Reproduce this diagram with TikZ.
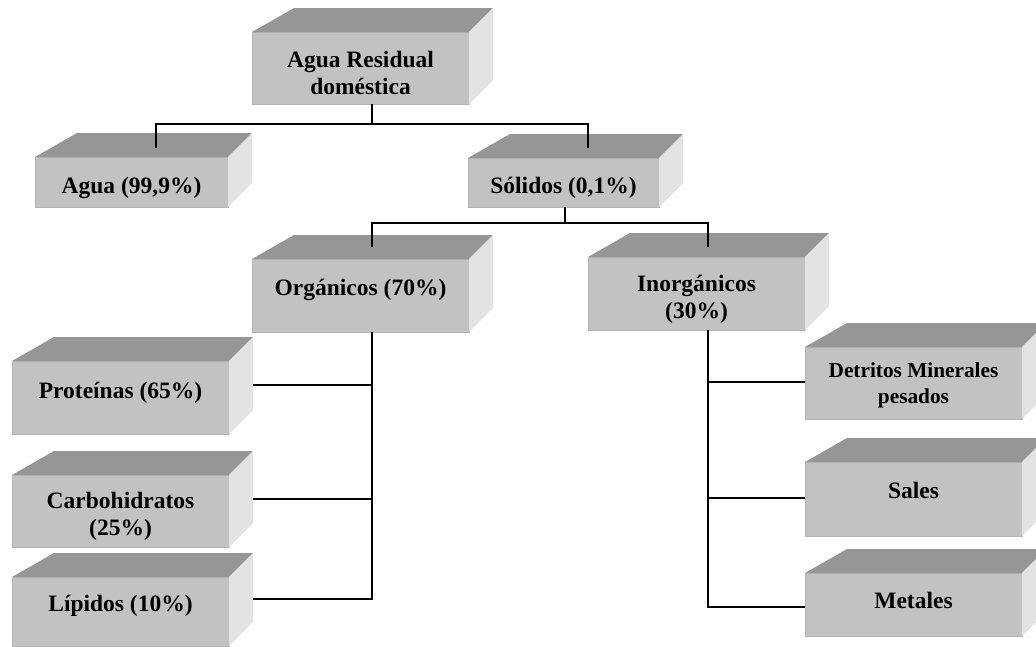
\documentclass[tikz,border=0pt]{standalone}
\usepackage{fontspec}
\setmainfont{Liberation Serif}
\usetikzlibrary{calc}
\definecolor{frontc}{HTML}{C2C2C2}
\definecolor{topc}{HTML}{969696}
\definecolor{sidec}{HTML}{E3E3E3}
\definecolor{edgec}{HTML}{B4B4B4}
\tikzset{
  frontface/.style={fill=frontc, draw=edgec, line width=1pt, inner sep=0pt, outer sep=0pt},
  topface/.style={fill=topc},
  sideface/.style={fill=sidec},
  lbl/.style={anchor=north, inner sep=0pt, align=center, text=black,
    font=\bfseries\fontsize{23.5}{27}\selectfont},
  lblsmall/.style={lbl, font=\bfseries\fontsize{21.3}{26}\selectfont},
  conn/.style={draw=black, line width=1.4pt}
}
\newcommand{\mkcube}[5]{%
  \node[frontface, minimum width={(#4-#2)*1pt}, minimum height={(#5-#3)*1pt}] (#1) at ({(#2+#4)/2},{(#3+#5)/2}) {};
  \fill[topface] (#1.north west) -- (#1.north east) -- ++(24,-24) -- ($(#1.north west)+(42,-24)$) -- cycle;
  \fill[sideface] (#1.north east) -- ++(24,-24) -- ($(#1.south east)+(24,-24)$) -- (#1.south east) -- cycle;
}
\begin{document}
\begin{tikzpicture}[x=1pt,y=-1pt]
\useasboundingbox (0,0) rectangle (1036,646);
% boxes
\mkcube{ar}{252}{32}{469}{104}
\mkcube{agua}{35}{157}{228}{207}
\mkcube{sol}{468}{158}{659}{207}
\mkcube{org}{252}{259}{469}{332}
\mkcube{inorg}{588}{257}{805}{330}
\mkcube{prot}{12}{361}{229}{434}
\mkcube{carb}{12}{475}{229}{547}
\mkcube{lip}{12}{577}{229}{646}
\mkcube{det}{805}{347}{1022}{419}
\mkcube{sales}{805}{462}{1022}{536}
\mkcube{met}{805}{573}{1022}{636}
% labels
\node[lbl] (ar-t) at (360.5,51) {Agua Residual\\doméstica};
\node[lbl] (agua-t) at (131.5,177) {Agua (99,9\%)};
\node[lbl] (sol-t) at (563.5,177) {Sólidos (0,1\%)};
\node[lbl] (org-t) at (360.5,279) {Orgánicos (70\%)};
\node[lbl] (inorg-t) at (696.5,275) {Inorgánicos\\(30\%)};
\node[lbl] (prot-t) at (120.5,382) {Proteínas (65\%)};
\node[lbl] (carb-t) at (120.5,492) {Carbohidratos\\(25\%)};
\node[lbl] (lip-t) at (120.5,595) {Lípidos (10\%)};
\node[lblsmall] (det-t) at (913.5,362.5) {Detritos Minerales\\pesados};
\node[lbl] (sales-t) at (913.5,482) {Sales};
\node[lbl] (met-t) at (913.5,592) {Metales};
% connector end points
\coordinate (ar-b) at (372,104);
\coordinate (agua-c) at (156,148);
\coordinate (sol-c) at (588,148);
\coordinate (sol-b) at (565,207);
\coordinate (org-c) at (372,247);
\coordinate (inorg-c) at (708,247);
\coordinate (org-b) at (372,332);
\coordinate (inorg-b) at (708,330);
\coordinate (prot-r) at (253,385);
\coordinate (carb-r) at (253,499);
\coordinate (lip-r) at (253,599);
\coordinate (det-l) at (805,382);
\coordinate (sales-l) at (805,498);
\coordinate (met-l) at (805,607);
% connectors
\draw[conn] (ar-b) -- ++(0,20) coordinate (j1);
\draw[conn] (agua-c) |- (j1) -| (sol-c);
\draw[conn] (sol-b) -- ++(0,16) coordinate (j2);
\draw[conn] (org-c) |- (j2) -| (inorg-c);
\draw[conn] (org-b) |- (lip-r);
\draw[conn] (prot-r) -- (prot-r -| org-b);
\draw[conn] (carb-r) -- (carb-r -| org-b);
\draw[conn] (inorg-b) |- (met-l);
\draw[conn] (det-l) -- (det-l -| inorg-b);
\draw[conn] (sales-l) -- (sales-l -| inorg-b);
\end{tikzpicture}
\end{document}
